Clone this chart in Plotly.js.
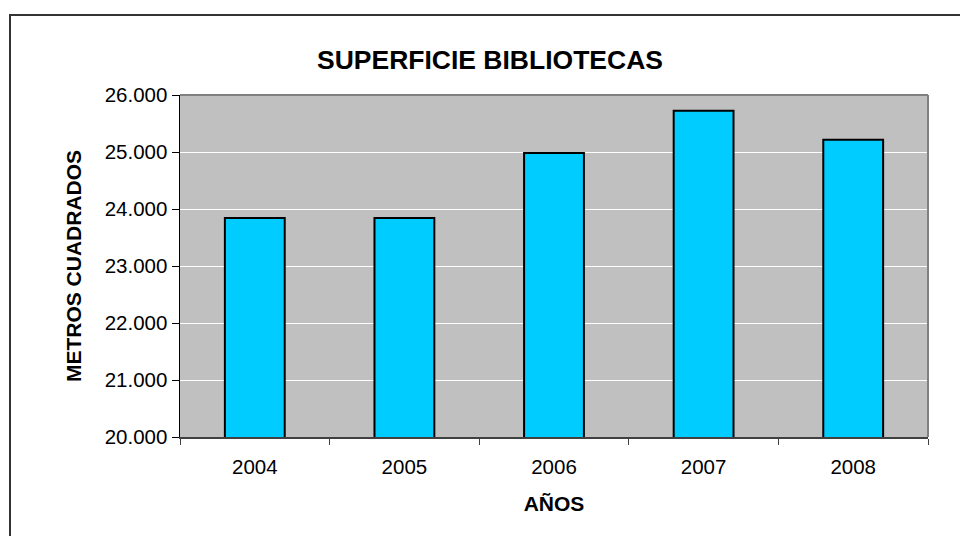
<!DOCTYPE html>
<html>
<head>
<meta charset="utf-8">
<script src="https://cdn.plot.ly/plotly-3.0.1.min.js"></script>
<style>
  html, body { margin: 0; padding: 0; background: #fff; overflow: hidden; }
  #chart { width: 960px; height: 536px; position: relative; }
  #frame { position: absolute; left: 9px; top: 14px; width: 1000px; height: 600px;
           border-left: 2px solid #333; border-top: 2px solid #333; pointer-events: none; }
</style>
</head>
<body>
<div id="chart"></div>
<div id="frame"></div>
<script>
const years = ['2004', '2005', '2006', '2007', '2008'];
const superficie = [23840, 23840, 24982, 25722, 25216];
const yTicks = [20000, 21000, 22000, 23000, 24000, 25000, 26000];
const chartTitle = 'SUPERFICIE BIBLIOTECAS';
const xTitle = 'AÑOS';
const yTitle = 'METROS CUADRADOS';

const font = 'Liberation Sans, Arial, sans-serif';

const trace = {
  type: 'bar',
  x: years,
  y: superficie,
  marker: { color: '#00CCFF', line: { color: '#000000', width: 2 } },
  hoverinfo: 'x+y'
};

const layout = {
  width: 960,
  height: 536,
  margin: { l: 180, r: 32, t: 95, b: 99 },
  paper_bgcolor: '#ffffff',
  plot_bgcolor: '#C0C0C0',
  separators: ',.',
  bargap: 0.6,
  showlegend: false,
  font: { family: font, color: '#000' },
  title: {
    text: '<b>' + chartTitle + '</b>',
    font: { family: font, size: 26.5, color: '#000' },
    xref: 'container', x: 490 / 960, xanchor: 'center',
    yref: 'container', y: 1 - 60 / 536, yanchor: 'middle'
  },
  xaxis: {
    type: 'category',
    tickson: 'boundaries',
    ticks: 'outside', ticklen: 6, tickcolor: '#404040', tickwidth: 1,
    ticklabelstandoff: 11,
    showline: true, linecolor: '#404040', linewidth: 1.5,
    showgrid: false,
    tickfont: { family: font, size: 20.5, color: '#000' },
    title: { text: '<b>' + xTitle + '</b>', font: { family: font, size: 21, color: '#000' }, standoff: 19 }
  },
  yaxis: {
    range: [20000, 26000],
    tickvals: yTicks,
    tickformat: ',.0f',
    ticks: 'outside', ticklen: 7, tickcolor: '#000', tickwidth: 1,
    showline: true, linecolor: '#000', linewidth: 1.5,
    showgrid: true, gridcolor: '#ffffff', gridwidth: 1,
    zeroline: false,
    tickfont: { family: font, size: 20.5, color: '#000' },
    title: { text: '<b>' + yTitle + '</b>', font: { family: font, size: 21, color: '#000' }, standoff: 17 }
  },
  shapes: [
    { type: 'line', xref: 'paper', yref: 'paper', x0: 0, x1: 1, y0: 1, y1: 1, line: { color: '#808080', width: 2 } },
    { type: 'line', xref: 'paper', yref: 'paper', x0: 1, x1: 1, y0: 0, y1: 1, line: { color: '#808080', width: 2 } }
  ]
};

Plotly.newPlot('chart', [trace], layout, { displayModeBar: false, staticPlot: true });
</script>
</body>
</html>
